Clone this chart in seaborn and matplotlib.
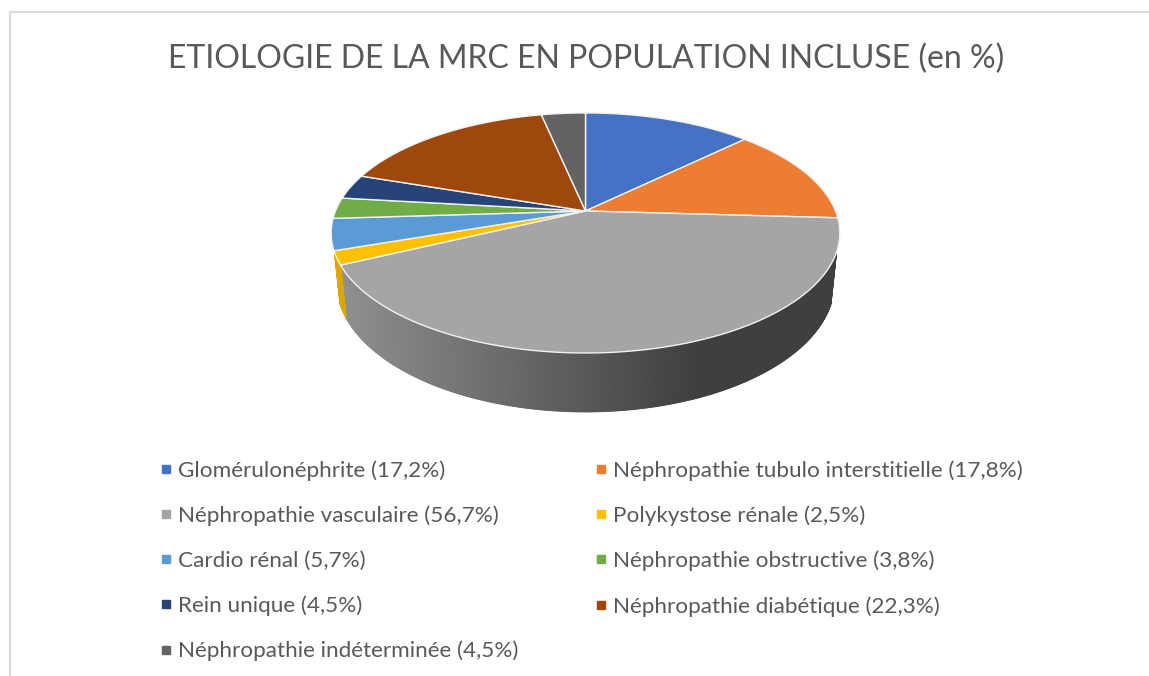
import numpy as np
import seaborn as sns
import matplotlib
matplotlib.use('Agg')
import matplotlib.pyplot as plt
from matplotlib.lines import Line2D

labels = ['Glomérulonéphrite', 'Néphropathie tubulo interstitielle',
          'Néphropathie vasculaire', 'Polykystose rénale', 'Cardio rénal',
          'Néphropathie obstructive', 'Rein unique', 'Néphropathie diabétique',
          'Néphropathie indéterminée']
values = [17.2, 17.8, 56.7, 2.5, 5.7, 3.8, 4.5, 22.3, 4.5]
value_labels = ['17,2', '17,8', '56,7', '2,5', '5,7', '3,8', '4,5', '22,3', '4,5']
colors = ['#4472c4', '#ed7d31', '#a5a5a5', '#ffc000', '#5b9bd5',
          '#70ad47', '#264478', '#9e480e', '#636363']
title = 'ETIOLOGIE DE LA MRC EN POPULATION INCLUSE (en %)'

sns.set_theme(style='white')
plt.rcParams['font.family'] = ['Lato', 'DejaVu Sans']
palette = sns.color_palette(colors)
text_col = '#595959'

fig = plt.figure(figsize=(11.49, 6.76), dpi=100)
ax = fig.add_axes([0, 0, 1, 1])

# let pie work out the slice angles, then redraw them tilted
wedges, _ = ax.pie(values, startangle=90, counterclock=False, colors=palette)
angles = [(w.theta1, w.theta2) for w in wedges]
for w in wedges:
    w.remove()

ax.set_aspect('auto')
ax.set_xlim(0, 1149)
ax.set_ylim(676, 0)
ax.axis('off')

cx, cy = 585.5, 211
a, b, k = 250, 116, -0.183
depth = 48


def project(theta):
    t = np.radians(theta)
    u, v = np.cos(t), -np.sin(t)
    return cx + a * u / (1 + k * v), cy + b * v / (1 + k * v)


def wall_depth(theta):
    return depth / (1 - k * np.sin(np.radians(theta)))


def wall_shade(x):
    return np.interp(x, [340, 700], [0.87, 0.38])


# side wall
for (th1, th2), col in zip(angles, palette):
    steps = np.append(np.arange(th1, th2, 0.25), th2)
    for t0, t1 in zip(steps[:-1], steps[1:]):
        if np.sin(np.radians((t0 + t1) / 2)) > -0.335:
            continue
        x0, y0 = project(t0)
        x1, y1 = project(t1)
        xb0 = cx + (x0 - cx) * 0.978
        xb1 = cx + (x1 - cx) * 0.978
        c = tuple(np.array(col) * wall_shade((x0 + x1) / 2))
        ax.fill([x0, x1, xb1, xb0],
                [y0, y1, y1 + wall_depth(t1), y0 + wall_depth(t0)],
                color=c, lw=0.9, zorder=2)

# top face
for (th1, th2), col in zip(angles, palette):
    xs, ys = project(np.linspace(th1, th2, 200))
    ax.fill(np.r_[cx, xs], np.r_[cy, ys], facecolor=col, edgecolor='#f2f2f2',
            lw=1.0, joinstyle='round', zorder=3)

# chart frame (cut off on the right and bottom in the source)
ax.plot([10, 10, 1149], [676, 11.5, 11.5], color='#d9d9d9', lw=1.6, zorder=1)

ax.text(586, 59, title, ha='center', va='center', fontsize=23.0, color=text_col)

handles = [Line2D([], [], ls='none', marker='s', ms=5.6, color=c) for c in palette]
legend_labels = [f'{n} ({v}%)' for n, v in zip(labels, value_labels)]
order = [0, 2, 4, 6, 8, 1, 3, 5, 7]
leg = ax.legend([handles[i] for i in order], [legend_labels[i] for i in order],
                ncols=2, frameon=False, fontsize=16.2, labelcolor=text_col,
                loc='upper left', bbox_to_anchor=(157, 460),
                bbox_transform=ax.transData, borderpad=0, borderaxespad=0,
                handlelength=0.8, handletextpad=0.13, labelspacing=1.10,
                columnspacing=3.29)

fig.savefig('out.png', dpi=100, facecolor='white')
